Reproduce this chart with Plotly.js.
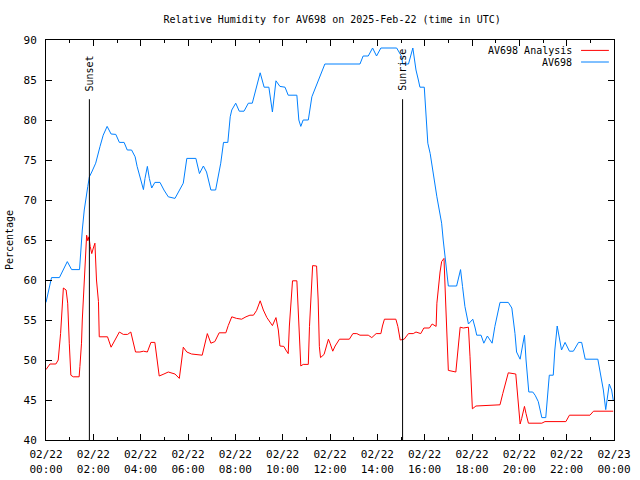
<!DOCTYPE html>
<html>
<head>
<meta charset="utf-8">
<script src="https://cdn.plot.ly/plotly-3.0.1.min.js"></script>
<style>html,body{margin:0;padding:0;background:#fff;}#chart{width:640px;height:480px;}</style>
</head>
<body>
<div id="chart"></div>
<script>
const DAY = '2025-02-22 ';
// AV698 observed (blue)
const obsTimes = ['00:00','00:14','00:34','00:54','01:05','01:25','01:32','01:37','01:46','01:50','01:56','02:06','02:17','02:25','02:35','02:45','02:57','03:06','03:18','03:26','03:37','03:46','03:51','03:58','04:07','04:11','04:17','04:22','04:28','04:36','04:49','04:59','05:10','05:27','05:40','05:48','05:57','06:20','06:29','06:39','06:47','06:58','07:10','07:17','07:23','07:30','07:41','07:47','07:51','08:01','08:10','08:22','08:33','08:43','08:54','09:03','09:13','09:25','09:34','09:43','09:53','10:06','10:14','10:36','10:41','10:46','10:52','11:05','11:14','11:25','11:35','11:47','13:16','13:24','13:37','13:48','13:58','14:09','14:49','15:02','15:04','15:19','15:30','15:38','15:44','15:48','15:59','16:03','16:08','16:14','16:19','16:24','16:31','16:37','16:43','16:47','16:52','16:56','17:00','17:21','17:25','17:31','17:36','17:42','17:51','17:57','18:02','18:08','18:12','18:23','18:30','18:39','18:51','18:58','19:04','19:11','19:32','19:41','19:49','19:53','20:02','20:09','20:13','20:17','20:21','20:24','20:34','20:40','20:48','20:57','21:07','21:12','21:16','21:26','21:30','21:36','21:41','21:47','21:56','22:07','22:17','22:30','22:38','22:47','23:19','23:25','23:33','23:39','23:43','23:48','23:54','23:58'];
const obsValues = [57.2,60.3,60.3,62.3,61.3,61.3,66.25,68.75,71.7,72.9,73.5,74.6,76.7,78.1,79.2,78.25,78.2,77.2,77.2,76.25,76.25,75.4,74.2,72.9,71.3,72.7,74.2,72.7,71.5,72.2,72.2,71.25,70.4,70.2,71.5,72.1,75.2,75.2,73.3,74.25,73.5,71.25,71.25,72.9,74.6,77.2,77.2,80.4,81.25,82.1,81.1,81.1,82.1,82.1,84.4,85.9,84.1,84.1,81.0,84.9,84.2,84.1,83.1,83.1,80,79.2,80,80,82.9,84.2,85.4,87,87,88,88,89,88,89,89,87.9,87,87,89,86.25,85,84.1,84.1,81.25,77.1,75.8,74.2,72.1,70.4,68.75,67.1,65,62.7,60.6,59.25,59.25,60.2,61.3,59.2,56.7,54.5,54.8,55.1,54.0,53.1,53.1,52.1,53.0,52.1,54.2,55.4,57.2,57.2,56.5,53.3,51.0,50.1,51.9,53.1,50,47.1,46,46,45.6,44.8,42.8,42.8,46.25,48.1,48.1,51.25,54.25,52.7,51.25,52.2,51.1,51.1,52.2,52.2,50.1,50.1,48.5,46.25,43.8,45.2,47,46.25,45];
// AV698 Analysis (red)
const anaTimes = ['00:00','00:10','00:25','00:31','00:37','00:40','00:44','00:51','00:55','00:59','01:03','01:09','01:24','01:26','01:30','01:32','01:35','01:39','01:43','01:46','01:49','01:52','01:56','02:00','02:04','02:08','02:13','02:15','02:36','02:45','02:55','03:06','03:16','03:27','03:35','03:40','03:47','03:58','04:07','04:17','04:26','04:36','04:42','04:47','04:59','05:10','05:27','05:38','05:44','05:48','05:57','06:09','06:36','06:41','06:49','06:58','07:08','07:19','07:36','07:42','07:51','08:03','08:16','08:27','08:37','08:46','08:54','09:03','09:11','09:20','09:28','09:34','09:43','09:49','09:53','10:03','10:08','10:14','10:17','10:20','10:25','10:36','10:40','10:42','10:46','10:52','11:05','11:08','11:11','11:16','11:26','11:30','11:33','11:36','11:45','11:50','11:56','12:00','12:07','12:13','12:24','12:49','12:58','13:08','13:16','13:37','13:46','13:57','14:09','14:13','14:18','14:47','14:52','14:58','15:08','15:19','15:31','15:38','15:50','15:58','16:12','16:19','16:29','16:31','16:35','16:39','16:43','16:49','16:53','16:57','17:00','17:19','17:24','17:30','17:38','17:51','17:55','17:57','18:01','18:10','19:11','19:18','19:26','19:32','19:51','19:55','19:59','20:02','20:06','20:13','20:17','20:23','20:57','21:05','21:58','22:07','22:59','23:08','23:58'];
const anaValues = [48.8,49.5,49.5,50,53.3,55.6,59,58.75,57.1,52.1,48.1,47.9,47.9,49.2,52.1,55,57.7,61.25,65.6,64.9,65.4,64.2,63.3,64,64.6,60,57.3,52.9,52.9,51.6,52.6,53.5,53.2,53.2,53.5,52.3,51,51,51.1,51,52.2,52.2,49.5,48.0,48.25,48.5,48.25,47.7,50,51.6,51,50.75,50.6,51.7,53.3,52.1,52.3,53.4,53.4,54.3,55.4,55.2,55.1,55.4,55.6,55.6,56.2,57.4,56.25,55.3,54.7,54.3,55.3,53.75,51.75,51.7,51.25,50.8,54.25,56.5,59.9,59.9,56,53.1,49.25,49.45,49.45,54.2,57.1,61.8,61.75,57.5,51.7,50.3,50.7,51.5,52.6,52.1,51.1,51.75,52.6,52.6,53.3,53.3,53.1,53.1,52.8,53.3,53.3,54.25,55.1,55.1,54.2,52.5,52.6,53.3,53.3,53.5,53.3,54.0,54.0,54.5,54.2,57.1,59.6,61.0,62.3,62.7,57.5,50.8,48.7,48.5,51.25,54.1,54.0,54.1,50.4,47.9,43.9,44.25,44.4,45.8,47.3,48.4,48.25,45.8,42.9,42,42.7,44.2,43.3,42.1,42.1,42.3,42.3,43.1,43.1,43.6,43.6];
const seriesNames = ['AV698 Analysis', 'AV698'];
const seriesColors = ['#ff0000', '#0080ff'];
// Sun events
const sunLabels = ['Sunset', 'Sunrise'];
const sunTimes = ['01:50', '15:04'];
const sunLineTop = 82.6;
const yRange = [40, 90];

const MONO = 'DejaVu Sans Mono, monospace';
const traces = [
  {x: anaTimes.map(t => DAY + t), y: anaValues, name: seriesNames[0], type: 'scatter', mode: 'lines',
   line: {color: seriesColors[0], width: 1}},
  {x: obsTimes.map(t => DAY + t), y: obsValues, name: seriesNames[1], type: 'scatter', mode: 'lines',
   line: {color: seriesColors[1], width: 1}}
];

const shapes = [];
const annotations = [];
sunTimes.forEach((t, i) => {
  shapes.push({type: 'line', xref: 'x', yref: 'y', x0: DAY + t, x1: DAY + t, y0: yRange[0], y1: sunLineTop,
    line: {color: '#000', width: 1}});
  annotations.push({xref: 'x', yref: 'y', x: DAY + t, y: sunLineTop, text: sunLabels[i], textangle: -90,
    showarrow: false, yanchor: 'bottom', xanchor: 'center', yshift: 6, font: {family: MONO, size: 10, color: '#000'}});
});
// legend (gnuplot style: text then line sample)
const legY = [0.974, 0.945];
seriesNames.forEach((n, i) => {
  annotations.push({xref: 'paper', yref: 'paper', x: 0.93, y: legY[i], text: n, showarrow: false,
    xanchor: 'right', yanchor: 'middle', font: {family: MONO, size: 10, color: '#000'}});
  shapes.push({type: 'line', xref: 'paper', yref: 'paper', x0: 0.942, x1: 0.991, y0: legY[i], y1: legY[i],
    line: {color: seriesColors[i], width: 1}});
});

const layout = {
  width: 640, height: 480,
  margin: {l: 46, r: 26, t: 40, b: 40, pad: 0},
  paper_bgcolor: '#fff', plot_bgcolor: '#fff',
  showlegend: false,
  title: {text: 'Relative Humidity for AV698 on 2025-Feb-22 (time in UTC)', x: 0.519, xanchor: 'center',
    y: 1 - 19 / 480, yanchor: 'middle', yref: 'container', font: {family: MONO, size: 10, color: '#000'}},
  xaxis: {type: 'date', range: ['2025-02-22 00:00', '2025-02-23 00:00'], dtick: 7200000,
    tick0: '2025-02-22 00:00', tickformat: '%m/%d<br>%H:%M', ticks: 'inside', ticklen: 6, tickcolor: '#000',
    showline: true, linecolor: '#000', linewidth: 1, mirror: 'ticks', showgrid: false, zeroline: false,
    minor: {dtick: 3600000, ticks: 'inside', ticklen: 3, tickcolor: '#000', showgrid: false},
    tickfont: {family: MONO, size: 11, color: '#000'}, ticklabelstandoff: 4, fixedrange: true},
  yaxis: {range: yRange, dtick: 5, ticks: 'inside', ticklen: 6, tickcolor: '#000',
    showline: true, linecolor: '#000', linewidth: 1, mirror: 'ticks', showgrid: false, zeroline: false,
    tickfont: {family: MONO, size: 11, color: '#000'}, ticklabelstandoff: 6,
    title: {text: 'Percentage', standoff: 8, font: {family: MONO, size: 10, color: '#000'}}, fixedrange: true},
  shapes: shapes,
  annotations: annotations
};
Plotly.newPlot('chart', traces, layout, {staticPlot: true, displayModeBar: false});
</script>
</body>
</html>
